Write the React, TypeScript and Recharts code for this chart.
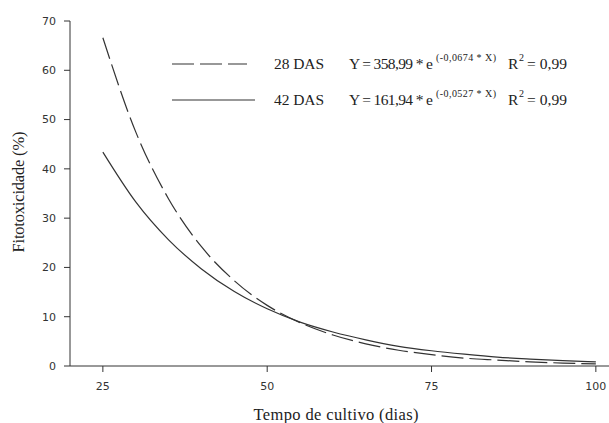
import { LineChart, Line, XAxis, YAxis } from 'recharts';

const dias = [25, 30, 35, 40, 45, 50, 55, 60, 65, 70, 75, 80, 85, 90, 95, 100];
const das28 = [66.6, 47.5, 33.9, 24.2, 17.3, 12.3, 8.8, 6.3, 4.5, 3.2, 2.3, 1.6, 1.2, 0.83, 0.6, 0.42];
const das42 = [43.4, 33.3, 25.6, 19.7, 15.1, 11.6, 8.9, 6.9, 5.3, 4.0, 3.1, 2.4, 1.8, 1.4, 1.08, 0.83];

const xTicks = [25, 50, 75, 100];
const yTicks = [0, 10, 20, 30, 40, 50, 60, 70];

const legendRows = [
    { name: '28 DAS', coef: '358,99', rate: '-0,0674', dash: '22 6' },
    { name: '42 DAS', coef: '161,94', rate: '-0,0527', dash: undefined },
];

const data = dias.map((d, i) => ({ dia: d, d28: das28[i], d42: das42[i] }));

const serif = '"Liberation Serif", "Times New Roman", serif';
const sans = '"DejaVu Sans", Verdana, sans-serif';
const ink = '#333';
const txt = '#222';

function LegendBox() {
    return (
        <svg width={609} height={423} style={{ position: 'absolute', left: 0, top: 0, pointerEvents: 'none' }}>
            {legendRows.map((r, i) => {
                const y = 64 + i * 36;
                return (
                    <g key={r.name} fontFamily={serif} fill={txt}>
                        <line x1={172} x2={r.dash ? 247 : 255} y1={y} y2={y} stroke={ink} strokeWidth={1.2} strokeDasharray={r.dash} />
                        <text x={274} y={y + 5} fontSize={15.5} textLength={50}>{r.name}</text>
                        <text x={349} y={y + 5} fontSize={15.5} textLength={84}>Y = {r.coef} * e</text>
                        <text x={436} y={y - 3} fontSize={10} textLength={60}>({r.rate} * X)</text>
                        <text x={508} y={y + 5} fontSize={15.5}>R</text>
                        <text x={519} y={y - 3} fontSize={10}>2</text>
                        <text x={527} y={y + 5} fontSize={15.5} textLength={40}>= 0,99</text>
                    </g>
                );
            })}
        </svg>
    );
}

export default function App() {
    return (
        <div style={{ position: 'absolute', left: 0, top: 0, width: 609, height: 423, background: '#fff' }}>
            <LineChart width={609} height={423} data={data} margin={{ top: 21, right: 0, bottom: 0, left: 0 }}>
                <XAxis
                    dataKey="dia"
                    type="number"
                    domain={[20, 102]}
                    ticks={xTicks}
                    height={57}
                    stroke={ink}
                    tickSize={6}
                    tickMargin={10}
                    tick={{ fontFamily: sans, fontSize: 11, fill: '#333' }}
                    label={{
                        content: () => (
                            <text x={336} y={420} textAnchor="middle" fontFamily={serif} fontSize={16.5} textLength={165} fill={txt}>
                                Tempo de cultivo (dias)
                            </text>
                        ),
                    }}
                />
                <YAxis
                    type="number"
                    domain={[0, 70]}
                    ticks={yTicks}
                    width={70}
                    stroke={ink}
                    tickSize={6}
                    tickMargin={8}
                    tick={{ fontFamily: sans, fontSize: 11, fill: '#333' }}
                    label={{
                        content: () => (
                            <text x={24} y={192} transform="rotate(-90 24 192)" textAnchor="middle" fontFamily={serif} fontSize={16.5} textLength={121} fill={txt}>
                                Fitotoxicidade (%)
                            </text>
                        ),
                    }}
                />
                <Line type="monotone" dataKey="d28" stroke={ink} strokeWidth={1.2} strokeDasharray="22 6" dot={false} isAnimationActive={false} />
                <Line type="monotone" dataKey="d42" stroke={ink} strokeWidth={1.2} dot={false} isAnimationActive={false} />
            </LineChart>
            <LegendBox />
        </div>
    );
}
